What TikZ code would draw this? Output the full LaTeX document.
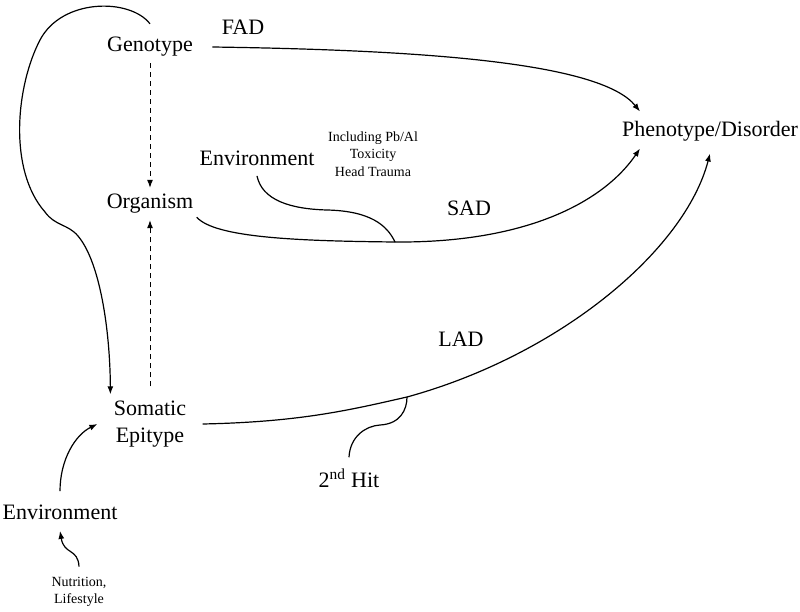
\documentclass[tikz,border=0pt]{standalone}
\usepackage{fontspec}
\setmainfont{Liberation Serif}
\usepackage{tikz}
\usetikzlibrary{arrows.meta,positioning}
\tikzstyle{term} = [text=black, align=center, font=\fontsize{22}{27}\selectfont]
\tikzstyle{note} = [text=black, align=center, font=\fontsize{14}{17.5}\selectfont]
\tikzstyle{tedge}  = [draw, line width=1.2pt, >={Latex[length=8pt,width=6pt]}, ->]
\tikzstyle{dedge}  = [tedge, line width=1pt, dash pattern=on 5pt off 4pt]
\tikzstyle{pedge}  = [draw, line width=1.2pt]

\begin{document}
\begin{tikzpicture}[auto, on grid, x=1pt, y=-1pt]
\useasboundingbox (0,0) rectangle (800,612);

% left column =============================

\node[term] (genotype) at (150,47) {Genotype};
\node[term, below=157pt of genotype] (organism) {Organism};
\node[term, below=220pt of organism] (somatic) {Somatic\\Epitype};
\node[term, below left=88pt and 90pt of somatic] (envlow) {Environment};
\node[note, below right=80pt and 19pt of envlow] (nutrition) {Nutrition,\\Lifestyle};

% outcome and routes
\node[term, below right=84pt and 560pt of genotype] (pheno) {Phenotype/Disorder};
\node[term, above right=20pt and 93pt of genotype] (fad) {FAD};
\node[term, below right=4pt and 319pt of organism] (sad) {SAD};
\node[term, above right=85pt and 311pt of somatic] (lad) {LAD};

% outside influences
\node[term, above right=46pt and 107pt of organism] (envtop) {Environment};
\node[note, above right=4pt and 116pt of envtop] (toxins) {Including Pb/Al\\Toxicity\\Head Trauma};
\node[term, below right=54pt and 199pt of somatic] (hit) {2\textsuperscript{nd} Hit};

\coordinate (sadjoin) at (395,242);
\coordinate (ladjoin) at (407,397);

%edges
\path[tedge] ([xshift=16pt]genotype.east) .. controls (420,50) and (600,62) .. ([shift={(-70pt,6pt)}]pheno.north);
\path[dedge] ([yshift=-3pt]genotype.south) -- ([yshift=3pt]organism.north);
\path[dedge] ([yshift=11pt]somatic.north) -- ([yshift=-3pt]organism.south);
\path[tedge] ([yshift=10pt]genotype.north) .. controls (130,-2) and (62,-2) .. (40,40)
  .. controls (16,86) and (8,170) .. (45,212) .. controls (55,226) and (68,224) .. (78,236)
  .. controls (100,262) and (110,330) .. ([yshift=3pt]somatic.north west);

\path[pedge] (organism.south east) .. controls (215,238) and (300,241) .. (sadjoin);
\path[tedge] (sadjoin) .. controls (530,243) and (605,200) .. ([shift={(-70pt,-4pt)}]pheno.south);
\path[pedge] ([yshift=-7pt]envtop.south) .. controls (262,200) and (290,209) .. (327,210)
  .. controls (370,211) and (387,225) .. (sadjoin);

\path[pedge] ([xshift=13pt]somatic.east) .. controls (300,422) and (350,410) .. (ladjoin);
\path[tedge] (ladjoin) .. controls (560,355) and (685,250) .. ([yshift=-9pt]pheno.south);
\path[pedge] ([yshift=8pt]hit.north) .. controls (350,437) and (365,426) .. (380,425)
  .. controls (400,424) and (407,410) .. (ladjoin);

\path[tedge] ([yshift=10pt]envlow.north) .. controls (60,460) and (75,435) .. ([xshift=-13pt]somatic.west);
\path[tedge] ([yshift=7pt]nutrition.north) .. controls (78,548) and (64,555) .. ([yshift=-8pt]envlow.south);

\end{tikzpicture}
\end{document}
